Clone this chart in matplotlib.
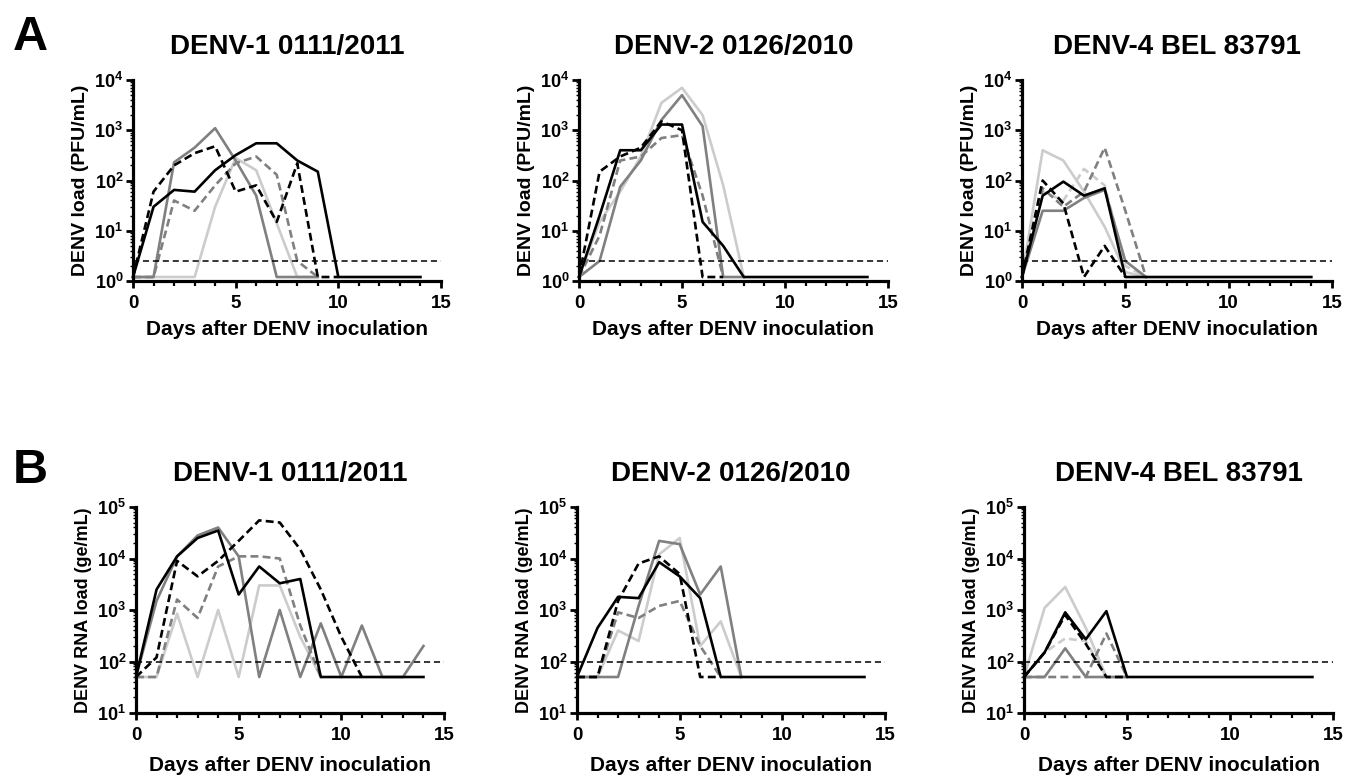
import matplotlib
matplotlib.use("Agg")
import matplotlib.pyplot as plt
from matplotlib.ticker import FixedLocator, MultipleLocator, LogFormatterSciNotation, LogLocator

plt.rcParams['font.family'] = ['Liberation Sans', 'DejaVu Sans']
plt.rcParams['font.weight'] = 'bold'
plt.rcParams['mathtext.default'] = 'regular'

# ---- datos -------------------------------------------------------------
days = list(range(15))
titles = ["DENV-1 0111/2011", "DENV-2 0126/2010", "DENV-4 BEL 83791"]
xlabel = "Days after DENV inoculation"
ylabel_a = "DENV load (PFU/mL)"
ylabel_b = "DENV RNA load (ge/mL)"
limit_a = 2.5     # limite de deteccion PFU
limit_b = 100     # limite de deteccion RNA

# A: PFU/mL
a1_black = [1.2, 30, 65, 60, 160, 320, 550, 550, 250, 150, 1.2, 1.2, 1.2, 1.2, 1.2]
a1_gray = [1.2, 1.2, 230, 450, 1100, 250, 50, 1.2, 1.2, 1.2]
a1_light = [1.2, 1.2, 1.2, 1.2, 30, 280, 160, 14, 1.2, 1.2]
a1_black_dash = [1.2, 60, 200, 350, 480, 60, 80, 15, 220, 1.2, 1.2]
a1_gray_dash = [1.2, 1.2, 40, 25, 80, 220, 300, 130, 2.5, 1.2]

a2_black = [1.2, 20, 400, 400, 1300, 1300, 15, 5, 1.2, 1.2, 1.2, 1.2, 1.2, 1.2, 1.2]
a2_gray = [1.2, 2.5, 75, 250, 1600, 5000, 1200, 1.2, 1.2]
a2_light = [1.2, 15, 60, 300, 3500, 7000, 2000, 80, 1.2]
a2_black_dash = [1.2, 150, 300, 450, 1500, 1000, 1.2, 1.2]
a2_gray_dash = [1.2, 8, 250, 300, 700, 800, 50, 1.2]

a3_black = [1.2, 50, 95, 50, 70, 1.2, 1.2, 1.2, 1.2, 1.2, 1.2, 1.2, 1.2, 1.2, 1.2]
a3_gray = [1.2, 25, 25, 45, 65, 2.5, 1.2]
a3_light = [1.2, 400, 250, 60, 12, 1.5, 1.2]
a3_black_dash = [1.2, 100, 35, 1.2, 5, 1.2]
a3_gray_dash = [1.2, 70, 30, 60, 450, 25, 1.2]
a3_light_dash = [1.2, 60, 40, 170, 80, 2, 1.2]

# B: ge/mL
b1_black = [50, 2500, 11000, 25000, 35000, 2000, 7000, 3300, 4000, 50, 50, 50, 50, 50, 50]
b1_gray = [50, 1500, 11000, 28000, 40000, 11000, 50, 1000, 50, 550, 50, 500, 50, 50, 200]
b1_light = [50, 50, 850, 50, 1000, 50, 3000, 3000, 300, 50]
b1_black_dash = [50, 120, 9000, 4500, 9000, 22000, 55000, 50000, 15000, 2500, 300, 50]
b1_gray_dash = [50, 50, 1600, 700, 7000, 11000, 11000, 10000, 500, 50]

b2_black = [50, 450, 1800, 1700, 8500, 4500, 1700, 50, 50, 50, 50, 50, 50, 50, 50]
b2_gray = [50, 50, 50, 1200, 22000, 19000, 2000, 7000, 50]
b2_light = [50, 50, 400, 250, 12000, 25000, 200, 600, 50]
b2_black_dash = [50, 50, 1500, 8000, 11000, 5000, 50, 50]
b2_gray_dash = [50, 50, 900, 700, 1200, 1500, 200, 50]

b3_black = [50, 150, 900, 270, 950, 50, 50, 50, 50, 50, 50, 50, 50, 50, 50]
b3_gray = [50, 50, 180, 50, 50, 50]
b3_light = [50, 1100, 2800, 450, 50, 50]
b3_black_dash = [50, 150, 800, 220, 50, 50]
b3_gray_dash = [50, 50, 50, 50, 350, 50]
b3_light_dash = [50, 150, 280, 250, 50]

# colores
NEGRO = '#000000'
GRIS = '#808080'
CLARO = '#cccccc'

panels_a = [
    [(a1_light, CLARO, '-'), (a1_gray, GRIS, '-'), (a1_gray_dash, GRIS, '--'),
     (a1_black_dash, NEGRO, '--'), (a1_black, NEGRO, '-')],
    [(a2_light, CLARO, '-'), (a2_gray, GRIS, '-'), (a2_gray_dash, GRIS, '--'),
     (a2_black_dash, NEGRO, '--'), (a2_black, NEGRO, '-')],
    [(a3_light, CLARO, '-'), (a3_light_dash, CLARO, '--'), (a3_gray, GRIS, '-'),
     (a3_gray_dash, GRIS, '--'), (a3_black_dash, NEGRO, '--'), (a3_black, NEGRO, '-')],
]
panels_b = [
    [(b1_light, CLARO, '-'), (b1_gray, GRIS, '-'), (b1_gray_dash, GRIS, '--'),
     (b1_black_dash, NEGRO, '--'), (b1_black, NEGRO, '-')],
    [(b2_light, CLARO, '-'), (b2_gray, GRIS, '-'), (b2_gray_dash, GRIS, '--'),
     (b2_black_dash, NEGRO, '--'), (b2_black, NEGRO, '-')],
    [(b3_light, CLARO, '-'), (b3_light_dash, CLARO, '--'), (b3_gray, GRIS, '-'),
     (b3_gray_dash, GRIS, '--'), (b3_black_dash, NEGRO, '--'), (b3_black, NEGRO, '-')],
]

W, H = 1346, 776
fig = plt.figure(figsize=(W / 100, H / 100), dpi=100)


def caja(x0, x1, ytop, ybot):
    # pixeles -> fraccion de figura
    return [x0 / W, 1 - ybot / H, (x1 - x0) / W, (ybot - ytop) / H]


def dibujar(ax, series, ylim, limite, ylab, titulo, ylab_size):
    for vals, col, ls in series:
        x = days[:len(vals)]
        if ls == '--':
            ax.plot(x, vals, color=col, lw=1.9, dashes=(3, 1.6), clip_on=False)
        else:
            ax.plot(x, vals, color=col, lw=1.9, clip_on=False)
    ax.axhline(limite, color='k', lw=1.1, dashes=(4, 2.5))
    ax.set_yscale('log')
    ax.set_xlim(0, 15)
    ax.set_ylim(*ylim)
    ax.spines['top'].set_visible(False)
    ax.spines['right'].set_visible(False)
    for s in ['left', 'bottom']:
        ax.spines[s].set_linewidth(2.3)
    ax.xaxis.set_major_locator(MultipleLocator(5))
    ax.xaxis.set_minor_locator(MultipleLocator(1))
    ax.yaxis.set_major_locator(LogLocator(base=10, numticks=10))
    ax.yaxis.set_minor_locator(LogLocator(base=10, subs=range(2, 10), numticks=20))
    ax.yaxis.set_minor_formatter(plt.NullFormatter())
    ax.yaxis.set_major_formatter(LogFormatterSciNotation())
    ax.tick_params(which='major', length=5, width=2, pad=5)
    ax.tick_params(axis='y', which='major', pad=2, labelsize=13)
    ax.tick_params(axis='x', which='major', labelsize=13.5)
    ax.tick_params(axis='x', which='minor', length=3.5, width=1.6)
    ax.tick_params(axis='y', which='minor', length=2.5, width=1.0)
    for lab in ax.get_xticklabels() + ax.get_yticklabels():
        lab.set_fontweight('bold')
    ax.set_xlabel(xlabel, fontsize=15, fontweight='bold', labelpad=6)
    ax.set_ylabel(ylab, fontsize=ylab_size, fontweight='bold', labelpad=4)
    ax.set_title(titulo, fontsize=20, fontweight='bold', pad=19)


cajas_a = [caja(133, 441, 80, 281), caja(579, 888, 80, 281), caja(1022, 1332, 80, 281)]
cajas_b = [caja(136, 444, 507, 713), caja(577, 885, 507, 713), caja(1024, 1333, 507, 713)]

for i in range(3):
    ax = fig.add_axes(cajas_a[i])
    dibujar(ax, panels_a[i], (1, 1e4), limit_a, ylabel_a, titles[i], 14)
for i in range(3):
    ax = fig.add_axes(cajas_b[i])
    dibujar(ax, panels_b[i], (10, 1e5), limit_b, ylabel_b, titles[i], 13)
    ax.xaxis.labelpad = 9

fig.text(13 / W, 1 - 50 / H, "A", fontsize=35, fontweight='bold')
fig.text(13 / W, 1 - 483 / H, "B", fontsize=35, fontweight='bold')

fig.savefig("out.png", dpi=100)
